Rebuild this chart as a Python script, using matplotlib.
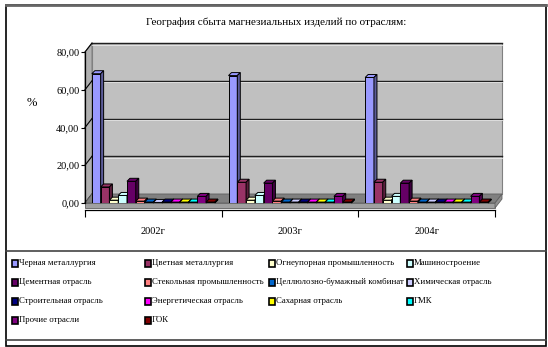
import matplotlib
matplotlib.use("Agg")
import matplotlib.pyplot as plt
import matplotlib.colors as mcolors
from matplotlib.patches import Polygon, Rectangle
from matplotlib.lines import Line2D
from matplotlib.ticker import FuncFormatter

years = ["2002г", "2003г", "2004г"]
branches = ["Черная металлургия", "Цветная металлургия", "Огнеупорная промышленность",
            "Машиностроение", "Цементная отрасль", "Стекольная промышленность",
            "Целлюлозно-бумажный комбинат", "Химическая отрасль", "Строительная отрасль",
            "Энергетическая отрасль", "Сахарная отрасль", "ГМК", "Прочие отрасли", "ГОК"]
colors = ["#9999FF", "#993366", "#FFFFCC", "#CCFFFF", "#660066", "#FF8080", "#0066CC",
          "#CCCCFF", "#000080", "#FF00FF", "#FFFF00", "#00FFFF", "#800080", "#800000"]
share_2002 = [68.5, 8.5, 1.5, 4.0, 11.5, 1.0, 0.5, 0.3, 0.5, 0.5, 0.5, 0.5, 3.5, 0.5]
share_2003 = [67.5, 11.0, 1.5, 4.0, 10.5, 1.0, 0.5, 0.5, 0.5, 0.5, 0.5, 0.5, 3.5, 0.5]
share_2004 = [66.5, 11.0, 1.5, 3.5, 10.5, 1.0, 0.5, 0.5, 0.5, 0.5, 0.5, 0.5, 3.5, 0.5]
shares = [share_2002, share_2003, share_2004]

W, H = 548, 347
FONT = "Liberation Serif"


def fx(x):
    return x / W


def fy(y):
    return 1 - y / H


fig = plt.figure(figsize=(W / 100, H / 100), dpi=100)
fig.patch.set_facecolor("white")

# outer frame and legend box
fig.add_artist(Rectangle((fx(6), fy(346)), fx(546) - fx(6), fy(5) - fy(346), transform=fig.transFigure,
                         fill=False, edgecolor="black", lw=1.2))
fig.add_artist(Line2D([fx(6), fx(546)], [fy(5), fy(5)], transform=fig.transFigure, color="#666666", lw=2))
fig.add_artist(Line2D([fx(6), fx(546)], [fy(251), fy(251)], transform=fig.transFigure, color="#444444", lw=1.2))
fig.add_artist(Line2D([fx(6), fx(546)], [fy(340), fy(340)], transform=fig.transFigure, color="#444444", lw=1.2))

ax = fig.add_axes([fx(85), fy(203), (495 - 85) / W, (203 - 52) / H])
ax.set_xlim(-0.5, 2.5)
ax.set_ylim(0, 80)
ax.patch.set_visible(False)

# depth offsets in data units
px_x = ax.bbox.width / 3.0
px_y = ax.bbox.height / 80.0
dx, dy = 7 / px_x, 9 / px_y
bx, by = 3 / px_x, 3 / px_y
slab = 5 / px_y

# back wall, left wall, floor
ax.add_patch(Polygon([(-0.5 + dx, dy), (2.5 + dx, dy), (2.5 + dx, 80 + dy), (-0.5 + dx, 80 + dy)],
                     facecolor="#C0C0C0", edgecolor="#808080", lw=0.8, clip_on=False, zorder=0))
ax.add_patch(Polygon([(-0.5, 0), (-0.5 + dx, dy), (-0.5 + dx, 80 + dy), (-0.5, 80)],
                     facecolor="#B0B0B0", edgecolor="#808080", lw=0.8, clip_on=False, zorder=0.5))
for v in [20, 40, 60, 80]:
    ax.plot([-0.5 + dx, 2.5 + dx], [v + dy, v + dy], color="#202020", lw=1.0, clip_on=False, zorder=1)
    ax.plot([-0.5 + dx, 2.5 + dx], [v + dy - 0.8, v + dy - 0.8], color="#E8E8E8", lw=0.6, clip_on=False, zorder=1)
for v in [0, 20, 40, 60, 80]:
    ax.plot([-0.5, -0.5 + dx], [v, v + dy], color="black", lw=0.8, clip_on=False, zorder=1.5)
ax.add_patch(Polygon([(-0.5, 0), (2.5, 0), (2.5 + dx, dy), (-0.5 + dx, dy)],
                     facecolor="#808080", edgecolor="#606060", lw=0.6, clip_on=False, zorder=1.6))
ax.add_patch(Polygon([(-0.5, -slab), (2.5, -slab), (2.5, 0), (-0.5, 0)],
                     facecolor="#A0A0A0", edgecolor="#606060", lw=0.6, clip_on=False, zorder=1.6))
ax.add_patch(Polygon([(2.5, -slab), (2.5 + dx, dy - slab), (2.5 + dx, dy), (2.5, 0)],
                     facecolor="#909090", edgecolor="#606060", lw=0.6, clip_on=False, zorder=1.6))

# bars
n = len(branches)
step = 0.9 / n
for g, vals in enumerate(shares):
    for j, v in enumerate(vals):
        x0 = g - 0.45 + j * step
        x1 = x0 + step
        z = 3 + g * 0.1 + j * 0.005
        base = mcolors.to_rgb(colors[j])
        side = tuple(c * 0.6 for c in base)
        ax.bar(x0, v, width=step, align="edge", color=colors[j], edgecolor="black", lw=0.7, zorder=z)
        ax.add_patch(Polygon([(x0, v), (x1, v), (x1 + bx, v + by), (x0 + bx, v + by)],
                             facecolor=colors[j], edgecolor="black", lw=0.7, zorder=z, clip_on=False))
        ax.add_patch(Polygon([(x1, 0), (x1 + bx, by), (x1 + bx, v + by), (x1, v)],
                             facecolor=side, edgecolor="black", lw=0.7, zorder=z, clip_on=False))

# axes styling
for s in ["top", "right"]:
    ax.spines[s].set_visible(False)
ax.spines["left"].set_linewidth(0.9)
ax.spines["bottom"].set_linewidth(0.9)
ax.spines["bottom"].set_position(("outward", 5))
ax.set_yticks([0, 20, 40, 60, 80])
ax.yaxis.set_major_formatter(FuncFormatter(lambda v, p: f"{v:.2f}".replace(".", ",")))
ax.tick_params(axis="y", length=3, width=0.8, pad=1, labelsize=7.5)
ax.set_xticks([0, 1, 2])
ax.set_xticklabels(years)
ax.set_xticks([-0.5, 0.5, 1.5, 2.5], minor=True)
ax.tick_params(axis="x", which="major", length=0, pad=12, labelsize=7.5)
ax.tick_params(axis="x", which="minor", length=5, width=0.8)
for lab in ax.get_xticklabels() + ax.get_yticklabels():
    lab.set_family(FONT)

fig.text(fx(276), fy(22), "География сбыта магнезиальных изделий по отраслям:", ha="center", va="center",
         fontsize=8, family=FONT)
fig.text(fx(32), fy(103), "%", ha="center", va="center", fontsize=9, family=FONT)

# legend
col_x = [15, 148, 272, 410]
row_y = [263, 282, 301, 320]
for i, name in enumerate(branches):
    r, c = i // 4, i % 4
    mx, my = col_x[c], row_y[r]
    fig.add_artist(Rectangle((fx(mx - 3), fy(my + 3.5)), 6 / W, 7 / H, transform=fig.transFigure,
                             facecolor=colors[i], edgecolor="black", lw=1.2))
    fig.text(fx(mx + 4), fy(my), name, ha="left", va="center", fontsize=6.3, family=FONT)

fig.savefig("out.png", dpi=100, facecolor="white")
